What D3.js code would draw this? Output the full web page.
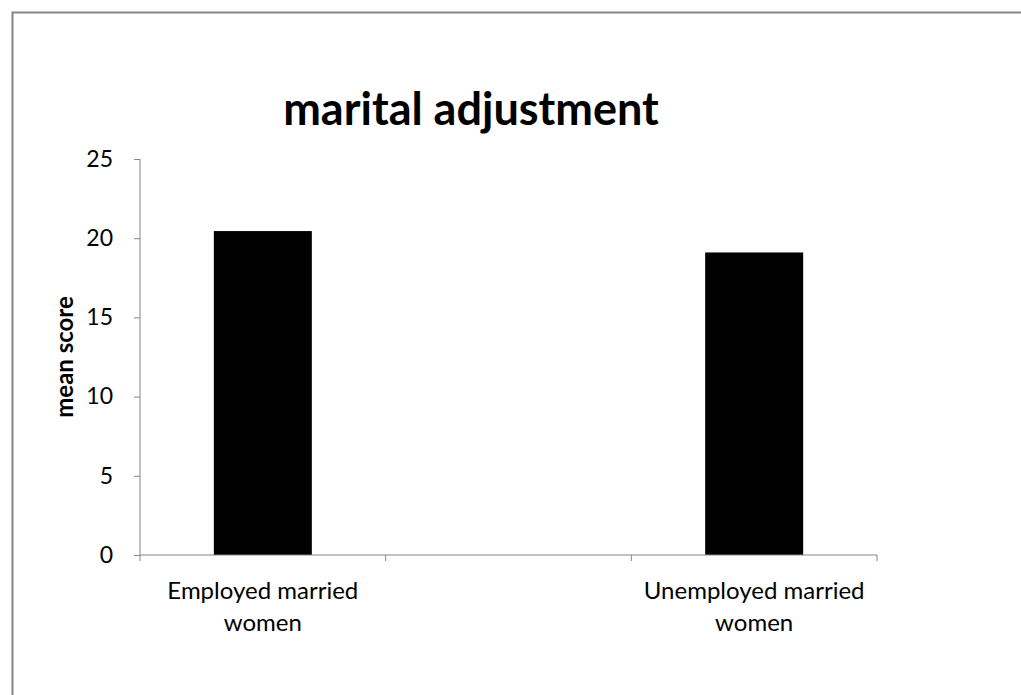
<!DOCTYPE html>
<html><head><meta charset="utf-8">
<script src="https://cdn.jsdelivr.net/npm/d3@7"></script>
<style>html,body{margin:0;padding:0;background:#fff;overflow:hidden}</style>
</head><body><svg id="c" width="1021" height="695"></svg>
<script>
const categories = ["Employed married women", "", "Unemployed married women"];
const values = [20.45, null, 19.1];
const yTicks = [0, 5, 10, 15, 20, 25];
const title = "marital adjustment";
const yLabel = "mean score";

const svg = d3.select("#c");
const font = "Lato, 'Open Sans', sans-serif";
svg.append("rect").attr("x",12.5).attr("y",12.5).attr("width",1030).attr("height",700)
  .attr("fill","#fff").attr("stroke","#868686").attr("stroke-width",2);

const x = d3.scaleBand().domain(categories.map((c,i)=>i)).range([140,877]).paddingInner(0).paddingOuter(0);
const y = d3.scaleLinear().domain([0,25]).range([555,159]);

// y axis
const ya = svg.append("g").attr("transform","translate(140,0)")
  .call(d3.axisLeft(y).tickValues(yTicks).tickSize(6).tickPadding(21));
ya.select(".domain").attr("stroke","#868686").attr("d","M0,159V555");
ya.selectAll(".tick line").attr("stroke","#868686");
ya.selectAll(".tick text").attr("font-family",font).attr("font-size",23).attr("fill","#000");

// bars
const barW = 98;
svg.append("g").selectAll("rect").data(values.map((v,i)=>({v,i})).filter(d=>d.v!=null))
  .join("rect")
  .attr("x",d=>x(d.i)+x.bandwidth()/2-barW/2)
  .attr("width",barW)
  .attr("y",d=>y(d.v))
  .attr("height",d=>y(0)-y(d.v))
  .attr("fill","#000");

// x axis
const xa = svg.append("g").attr("transform","translate(0,555)");
xa.append("line").attr("x1",140).attr("x2",877).attr("stroke","#868686");
const bounds = categories.map((c,i)=>x(i)).concat([x(categories.length-1)+x.bandwidth()]);
xa.selectAll(".tk").data(bounds).join("line").attr("class","tk")
  .attr("x1",d=>d).attr("x2",d=>d).attr("y1",0).attr("y2",6).attr("stroke","#868686");
categories.forEach((c,i)=>{
  if(!c) return;
  const words = c.split(" ");
  const lines = [words.slice(0,2).join(" "), words.slice(2).join(" ")];
  const t = xa.append("text").attr("text-anchor","middle").attr("font-family",font)
    .attr("font-size",24).attr("fill","#000");
  lines.forEach((l,j)=>t.append("tspan").attr("x",x(i)+x.bandwidth()/2).attr("y",44+j*32).text(l));
});

// title
svg.append("text").attr("x",471).attr("y",125).attr("text-anchor","middle")
  .attr("font-family",font).attr("font-weight","bold").attr("font-size",45).attr("fill","#000").text(title);

// y label
svg.append("text").attr("transform","translate(73,357) rotate(-90)").attr("text-anchor","middle")
  .attr("font-family",font).attr("font-weight","bold").attr("font-size",24).attr("fill","#000").text(yLabel);
</script></body></html>
